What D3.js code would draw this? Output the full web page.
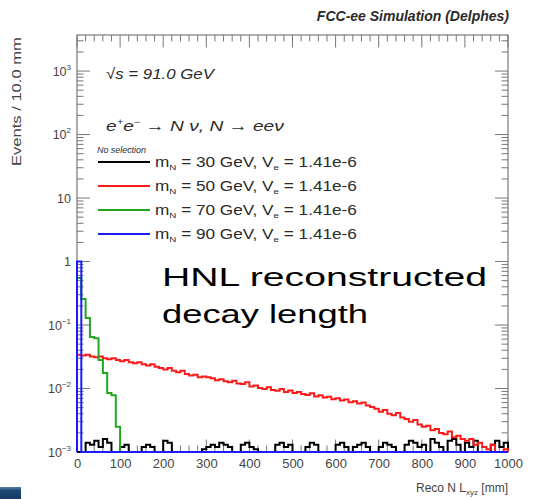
<!DOCTYPE html>
<html><head><meta charset="utf-8">
<script src="https://cdn.jsdelivr.net/npm/d3@7"></script>
<style>body{margin:0;background:#fff}svg{display:block}</style>
</head><body>
<svg id="chart" width="535" height="499"></svg>
<script>
// Histogram binning: 100 bins of 10 mm between 0 and 1000 mm
const binWidth = 10;
const xRange = [0, 1000];
const yRange = [1e-3, 3700];

// Bin contents per signal hypothesis (events / 10 mm)
const countsM30 = [
  0, 0, 0.0014, 0.0013, 0.0015, 0.0012, 0.0016, 0.0014, 0, 0,
  0.0012, 0.0013, 0, 0, 0, 0.0012, 0.0013, 0.0012, 0, 0,
  0.0015, 0.0014, 0, 0, 0, 0, 0, 0, 0, 0.0011,
  0.0012, 0.0013, 0.0012, 0.0014, 0.0013, 0.0012, 0, 0, 0.0013, 0.0014,
  0.0012, 0.0011, 0, 0, 0, 0, 0.0013, 0.0014, 0.0012, 0.0013,
  0, 0, 0, 0.0012, 0.0014, 0.0013, 0, 0, 0, 0,
  0.0013, 0.0014, 0.0012, 0, 0.0012, 0.0013, 0.0014, 0.0012, 0, 0,
  0.0012, 0.0014, 0.0013, 0.0012, 0, 0, 0.0013, 0.0015, 0.0014, 0.0012,
  0.0013, 0, 0.0016, 0.0014, 0.0012, 0, 0.0015, 0.0016, 0.0013, 0,
  0.0014, 0.0012, 0.0015, 0, 0, 0, 0.0013, 0.0015, 0.0012, 0.0014
];
const countsM50 = [
  0.034, 0.033, 0.034, 0.032, 0.031, 0.032, 0.030, 0.029, 0.030, 0.028,
  0.027, 0.028, 0.026, 0.025, 0.026, 0.024, 0.023, 0.024, 0.022, 0.021,
  0.020, 0.021, 0.019, 0.018, 0.019, 0.017, 0.016, 0.0165, 0.015, 0.0155,
  0.015, 0.0145, 0.0135, 0.014, 0.013, 0.0125, 0.0132, 0.012, 0.0118, 0.0125,
  0.0108, 0.0112, 0.0102, 0.0098, 0.0105, 0.0095, 0.0092, 0.0098, 0.0088, 0.0093,
  0.0085, 0.0088, 0.0082, 0.0079, 0.0084, 0.0075, 0.0078, 0.0072, 0.0074, 0.0068,
  0.0070, 0.0065, 0.0067, 0.0061, 0.0063, 0.0058, 0.0060, 0.0054, 0.0051, 0.0048,
  0.0043, 0.0046, 0.0040, 0.0038, 0.0041, 0.0035, 0.0033, 0.0030, 0.0032, 0.0027,
  0.0025, 0.0026, 0.0022, 0.0023, 0.0020, 0.0019, 0.0021, 0.0017, 0.0018, 0.0016,
  0.0015, 0.0016, 0.0013, 0.0014, 0.0012, 0.0011, 0.0013, 0.0010, 0.0009, 0.0011
];
const countsM70 = [0.55, 0.257, 0.129, 0.065, 0.062, 0.028, 0.0175, 0.0085, 0.0078, 0.0025];
const countsM90 = [1.0];

const seriesMass = [30, 50, 70, 90];
const seriesColor = ["#000000", "#ff1a1a", "#22a622", "#1a1aff"];
const seriesCounts = [countsM30, countsM50, countsM70, countsM90];
const mixingLabel = "1.41e-6";

const xTickValues = [0, 100, 200, 300, 400, 500, 600, 700, 800, 900, 1000];
const yDecades = [-3, -2, -1, 0, 1, 2, 3];

// Frame geometry
const frame = {left: 77, right: 508, top: 35, bottom: 452};
const font = "'Liberation Sans', Arial, Helvetica, sans-serif";
const axisGrey = "#444";
const textGrey = "#2a2a2a";

const svg = d3.select("#chart").style("font-family", font);
const defs = svg.append("defs");

const x = d3.scaleLinear().domain(xRange).range([frame.left, frame.right]);
const y = d3.scaleLog().domain(yRange).range([frame.bottom, frame.top]);

// Places a text element at (px, py) and stretches it horizontally to a given width
function placeWide(sel, px, py, width) {
  const w = sel.node().getComputedTextLength();
  sel.attr("transform", `translate(${px},${py}) scale(${width / w},1)`);
  return sel;
}

defs.append("clipPath").attr("id", "plotClip")
  .append("rect")
  .attr("x", frame.left - 2).attr("y", frame.top)
  .attr("width", frame.right - frame.left + 4)
  .attr("height", frame.bottom - frame.top + 2);

// Frame box
svg.append("rect")
  .attr("x", frame.left).attr("y", frame.top)
  .attr("width", frame.right - frame.left).attr("height", frame.bottom - frame.top)
  .attr("fill", "none").attr("stroke", "#777").attr("stroke-width", 1.2);

// Ticks along all four sides, pointing into the frame
const ticks = svg.append("g").attr("stroke", "#777").attr("stroke-width", 1);
d3.range(xRange[0], xRange[1] + 1, 20).forEach(v => {
  const len = v % 100 === 0 ? 12.5 : 6.5;
  ticks.append("line").attr("x1", x(v)).attr("x2", x(v))
    .attr("y1", frame.bottom).attr("y2", frame.bottom - len);
  ticks.append("line").attr("x1", x(v)).attr("x2", x(v))
    .attr("y1", frame.top).attr("y2", frame.top + len);
});
const yTickVals = [];
d3.range(-3, 4).forEach(d => {
  d3.range(1, 10).forEach(k => {
    const v = k * Math.pow(10, d);
    if (v >= yRange[0] && v <= yRange[1]) yTickVals.push({v, major: k === 1});
  });
});
yTickVals.forEach(t => {
  const len = t.major ? 13 : 6.5;
  ticks.append("line").attr("x1", frame.left).attr("x2", frame.left + len)
    .attr("y1", y(t.v)).attr("y2", y(t.v));
  ticks.append("line").attr("x1", frame.right).attr("x2", frame.right - len)
    .attr("y1", y(t.v)).attr("y2", y(t.v));
});

// Axis labels
const xAxis = d3.axisBottom(x).tickValues(xTickValues).tickSize(0).tickPadding(7)
  .tickFormat(d3.format("d"));
const gx = svg.append("g").attr("transform", `translate(0,${frame.bottom})`).call(xAxis);
gx.select(".domain").remove();
gx.selectAll("text").attr("font-size", 13).attr("fill", axisGrey).attr("font-family", font);

const gy = svg.append("g");
yDecades.forEach(d => {
  const t = gy.append("text").attr("x", frame.left - 6).attr("y", y(Math.pow(10, d)) + 4.5)
    .attr("text-anchor", "end").attr("font-size", 12.5).attr("fill", axisGrey);
  if (d === 0) t.text("1");
  else if (d === 1) t.text("10");
  else {
    t.append("tspan").text("10");
    t.append("tspan").attr("dy", -6).attr("font-size", 8).text(String(d).replace("-", "\u2212"));
  }
});

const yTitle = svg.append("text").attr("font-size", 13).attr("fill", axisGrey)
  .text("Events / 10.0 mm");
{
  const w = yTitle.node().getComputedTextLength();
  yTitle.attr("text-anchor", "start")
    .attr("transform", `translate(21,${frame.top + 131}) rotate(-90) scale(${129 / w},1)`);
}

const xt = svg.append("text").attr("x", frame.right).attr("y", 492)
  .attr("text-anchor", "end").attr("font-size", 12).attr("fill", axisGrey);
xt.append("tspan").text("Reco N L");
xt.append("tspan").attr("dy", 3).attr("font-size", 8).text("xyz");
xt.append("tspan").attr("dy", -3).text(" [mm]");

// Histograms, drawn as steps; empty bins fall to the frame floor
function stepPoints(vals) {
  const pts = [[xRange[0], yRange[0]]];
  vals.forEach((v, i) => {
    const c = Math.max(v, yRange[0]);
    pts.push([i * binWidth, c], [(i + 1) * binWidth, c]);
  });
  pts.push([vals.length * binWidth, yRange[0]]);
  pts.push([xRange[1], yRange[0]]);
  return pts;
}
const line = d3.line().x(d => x(d[0])).y(d => y(d[1]));
const hists = svg.append("g").attr("clip-path", "url(#plotClip)");
seriesCounts.forEach((vals, i) => {
  hists.append("path").attr("d", line(stepPoints(vals)))
    .attr("fill", "none").attr("stroke", seriesColor[i]).attr("stroke-width", 2)
    .attr("stroke-linejoin", "miter");
});

// Title and annotations
svg.append("text").attr("x", frame.right + 1).attr("y", 21).attr("text-anchor", "end")
  .attr("font-size", 14).attr("font-weight", "bold").attr("font-style", "italic")
  .attr("fill", textGrey).text("FCC-ee Simulation (Delphes)");

placeWide(svg.append("text").attr("font-size", 15)
  .attr("font-style", "italic").attr("fill", textGrey).text("\u221As = 91.0 GeV"), 106, 79, 108);

const proc = svg.append("text").attr("font-size", 15.5)
  .attr("font-style", "italic").attr("fill", textGrey);
proc.append("tspan").text("e");
proc.append("tspan").attr("dy", -6).attr("font-size", 9).text("+");
proc.append("tspan").attr("dy", 6).text("e");
proc.append("tspan").attr("dy", -6).attr("font-size", 9).text("\u2212");
proc.append("tspan").attr("dy", 6).text(" \u2192 N \u03BD, N \u2192 ee\u03BD");
placeWide(proc, 106, 131, 178);

placeWide(svg.append("text").attr("font-size", 8.5)
  .attr("font-style", "italic").attr("fill", textGrey).text("No selection"), 97, 153, 49);

// Legend
const legendY = [162, 186, 210, 234];
seriesMass.forEach((m, i) => {
  const ly = legendY[i];
  svg.append("line").attr("x1", 98).attr("x2", 150).attr("y1", ly).attr("y2", ly)
    .attr("stroke", seriesColor[i]).attr("stroke-width", 2);
  const t = svg.append("text").attr("font-size", 14).attr("fill", textGrey);
  t.append("tspan").text("m");
  t.append("tspan").attr("dy", 3).attr("font-size", 8).text("N");
  t.append("tspan").attr("dy", -3).text(` = ${m} GeV, V`);
  t.append("tspan").attr("dy", 3).attr("font-size", 8).text("e");
  t.append("tspan").attr("dy", -3).text(` = ${mixingLabel}`);
  placeWide(t, 155, ly + 5, 202);
});

// Overlay caption
svg.append("text").attr("x", 162).attr("y", 286).attr("font-size", 26)
  .attr("fill", "#000").attr("textLength", 325).attr("lengthAdjust", "spacingAndGlyphs")
  .text("HNL reconstructed");
svg.append("text").attr("x", 162).attr("y", 323).attr("font-size", 26)
  .attr("fill", "#000").attr("textLength", 206).attr("lengthAdjust", "spacingAndGlyphs")
  .text("decay length");

// Corner band of the slide
const grad = defs.append("linearGradient").attr("id", "band")
  .attr("x1", 0).attr("y1", 0).attr("x2", 0).attr("y2", 1);
grad.append("stop").attr("offset", 0).attr("stop-color", "#5a7fa8");
grad.append("stop").attr("offset", 0.3).attr("stop-color", "#1d4775");
grad.append("stop").attr("offset", 1).attr("stop-color", "#173c66");
svg.append("rect").attr("x", 0).attr("y", 487).attr("width", 21).attr("height", 12)
  .attr("fill", "url(#band)");
</script>
</body></html>
